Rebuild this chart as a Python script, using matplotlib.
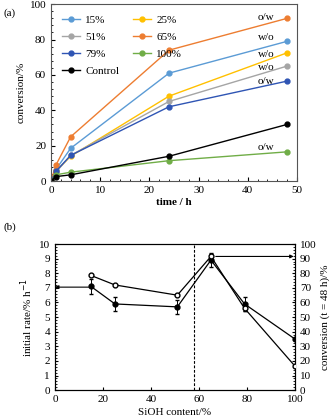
import matplotlib.pyplot as plt
from matplotlib.ticker import AutoMinorLocator, MultipleLocator

plt.rcParams['font.family'] = ['Liberation Serif', 'DejaVu Serif']
plt.rcParams['font.size'] = 8

# (a) conversion vs time
time_h = [0, 1, 4, 24, 48]
conv_15 = [0, 6.5, 18.5, 61, 79]
conv_25 = [0, 5.5, 14, 48, 72.5]
conv_51 = [0, 5, 14.5, 45, 65]
conv_65 = [0, 9, 25, 74, 92]
conv_79 = [0, 5.5, 14.5, 42, 56.5]
conv_100 = [0, 3.5, 5, 11.5, 16.5]
conv_ctrl = [0, 2.5, 3.5, 14, 32]

series_a = [
    ('15%', conv_15, '#5b9bd5'),
    ('25%', conv_25, '#ffc000'),
    ('51%', conv_51, '#a5a5a5'),
    ('65%', conv_65, '#ed7d31'),
    ('79%', conv_79, '#2f55b4'),
    ('100%', conv_100, '#70ad47'),
    ('Control', conv_ctrl, 'black'),
]

phase_labels = ['o/w', 'w/o', 'w/o', 'w/o', 'o/w', 'o/w']
phase_y = [92.5, 81, 71.5, 64, 56.5, 19]

# (b) vs SiOH content
siooh = [15, 25, 51, 65, 79, 100]
rate = [7.1, 5.9, 5.7, 8.9, 5.9, 3.5]
rate_err = [0.5, 0.5, 0.5, 0.5, 0.5, 0]
conv48 = [78.5, 72, 65, 91.5, 56, 16.5]
conv48_err = [0, 0, 0, 2, 2, 0]

fig = plt.figure(figsize=(3.31, 4.20), dpi=100)

# ---- panel (a)
ax1 = fig.add_axes([0.154, 0.569, 0.743, 0.421])
handles = {}
for name, vals, col in series_a:
    h, = ax1.plot(time_h, vals, '-o', color=col, lw=1, ms=3.5, label=name)
    handles[name] = h
ax1.set_xlim(0, 50)
ax1.set_ylim(0, 100)
ax1.xaxis.set_major_locator(MultipleLocator(10))
ax1.yaxis.set_major_locator(MultipleLocator(20))
ax1.xaxis.set_minor_locator(AutoMinorLocator(5))
ax1.yaxis.set_minor_locator(AutoMinorLocator(5))
ax1.tick_params(which='both', direction='in', labelsize=8)
ax1.tick_params(which='major', length=3)
ax1.tick_params(which='minor', length=1.5)
for sp in ax1.spines.values():
    sp.set_color('#555555')
ax1.set_xlabel('time / h', fontsize=8, fontweight='bold', labelpad=2)
ax1.set_ylabel('conversion/%', fontsize=8, labelpad=3)

order = ['15%', '51%', '79%', 'Control', '25%', '65%', '100%']
ax1.legend([handles[n] for n in order], order, ncol=2, frameon=False,
           loc='upper left', bbox_to_anchor=(0.0, 1.0), fontsize=8,
           borderpad=0.5, handlelength=1.6, handletextpad=0.5,
           columnspacing=1.2, labelspacing=0.65)

for lab, y in zip(phase_labels, phase_y):
    ax1.text(43.8, y, lab, ha='center', va='center', fontsize=8)

fig.text(0.01, 0.962, '(a)', fontsize=8)

# ---- panel (b)
ax2 = fig.add_axes([0.166, 0.071, 0.725, 0.348])
ax3 = ax2.twinx()

ax3.errorbar(siooh, conv48, yerr=conv48_err, fmt='-o', color='black',
             mfc='white', mec='black', ms=3.5, lw=0.9, capsize=1.5,
             elinewidth=0.7, zorder=3)
ax2.errorbar(siooh, rate, yerr=rate_err, fmt='-o', color='black',
             ms=3.5, lw=0.9, capsize=1.5, elinewidth=0.7, zorder=3)

ax2.axvline(58, color='black', lw=0.8, ls='--', dashes=(2.5, 1.5))

ax2.annotate('', xy=(0, 7.05), xytext=(14, 7.05),
             arrowprops=dict(arrowstyle='-|>', color='black', lw=0.8,
                             mutation_scale=5, shrinkA=0, shrinkB=0))
ax3.annotate('', xy=(99.5, 91.5), xytext=(67, 91.5),
             arrowprops=dict(arrowstyle='-|>', color='black', lw=0.8,
                             mutation_scale=5, shrinkA=0, shrinkB=0))

ax2.set_xlim(0, 100)
ax2.set_ylim(0, 10)
ax3.set_ylim(0, 100)
ax2.xaxis.set_major_locator(MultipleLocator(20))
ax2.yaxis.set_major_locator(MultipleLocator(1))
ax2.yaxis.set_minor_locator(AutoMinorLocator(5))
ax3.yaxis.set_major_locator(MultipleLocator(10))
ax3.yaxis.set_minor_locator(AutoMinorLocator(5))
for a in (ax2, ax3):
    a.tick_params(which='both', direction='in', labelsize=8)
    a.tick_params(which='major', length=2.5)
    a.tick_params(which='minor', length=1.2)
ax2.set_xlabel('SiOH content/%', fontsize=8, labelpad=3)
ax2.set_ylabel('initial rate/% h$^{-1}$', fontsize=8, labelpad=3)
ax3.set_ylabel('conversion (t = 48 h)/%', fontsize=8, labelpad=3)

fig.text(0.01, 0.452, '(b)', fontsize=8)

fig.savefig('out.png', dpi=100)
